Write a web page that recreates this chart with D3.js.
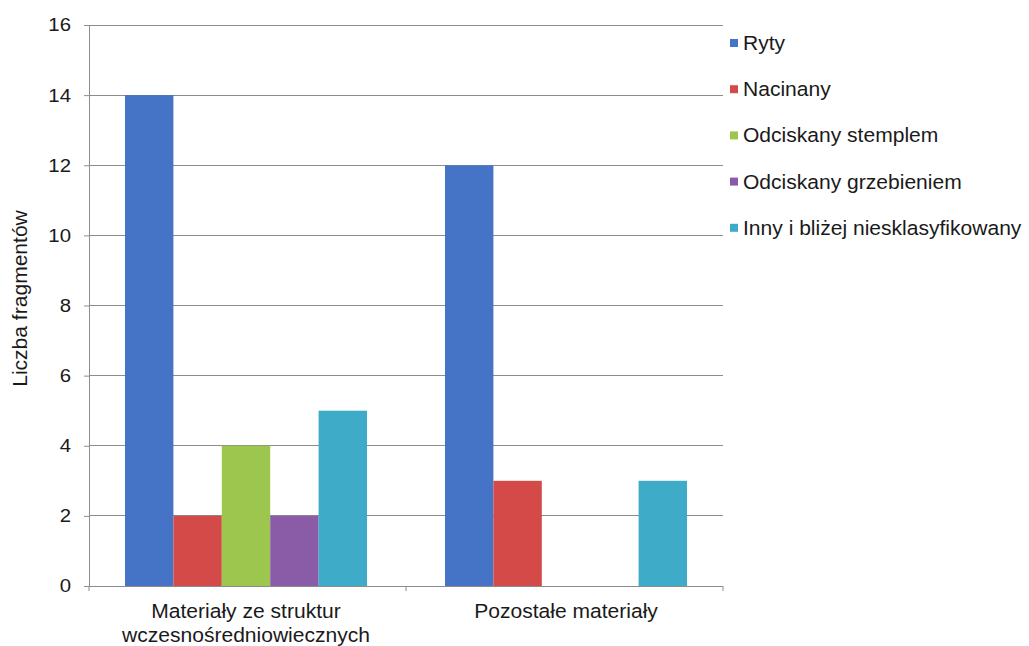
<!DOCTYPE html>
<html>
<head>
<meta charset="utf-8">
<script src="https://cdn.jsdelivr.net/npm/d3@7"></script>
<style>
  html, body { margin: 0; padding: 0; background: #ffffff; }
  svg { display: block; font-family: "Liberation Sans", Arial, sans-serif; }
</style>
</head>
<body>
<svg id="chart" width="1029" height="646"></svg>
<script>
// Categories (two lines each) and the decoration types
const categories = ["Materiały ze struktur\nwczesnośredniowiecznych", "Pozostałe materiały"];
const seriesNames = ["Ryty", "Nacinany", "Odciskany stemplem", "Odciskany grzebieniem", "Inny i bliżej niesklasyfikowany"];
const seriesColors = ["#4574c6", "#d44a48", "#9cc64e", "#8a5ca8", "#3eabc9"];

// Fragment counts per series, one value per category
const ryty = [14, 12];
const nacinany = [2, 3];
const stemplem = [4, 0];
const grzebieniem = [2, 0];
const inny = [5, 3];

const yTicks = [0, 2, 4, 6, 8, 10, 12, 14, 16];
const yTitle = "Liczba fragmentów";

const seriesValues = [ryty, nacinany, stemplem, grzebieniem, inny];

const svg = d3.select("#chart");
const plot = { left: 89, right: 723, top: 25, bottom: 586 };
const textColor = "#1a1a1a";
const stretch = 1.08; // slightly wide lettering

const x0 = d3.scaleBand()
  .domain(d3.range(categories.length))
  .range([plot.left, plot.right])
  .paddingInner(0.24375)
  .paddingOuter(0.1125);

const x1 = d3.scaleBand()
  .domain(d3.range(seriesNames.length))
  .range([0, x0.bandwidth()])
  .padding(0);

const y = d3.scaleLinear().domain([0, 16]).range([plot.bottom, plot.top]);

// Horizontal gridlines
svg.append("g")
  .selectAll("line")
  .data(yTicks.filter(t => t > 0))
  .join("line")
  .attr("x1", plot.left)
  .attr("x2", plot.right)
  .attr("y1", d => y(d))
  .attr("y2", d => y(d))
  .attr("stroke", "#8c8c8c")
  .attr("stroke-width", 1)
  .attr("shape-rendering", "crispEdges");

// Bars
const groups = svg.append("g")
  .selectAll("g")
  .data(categories.map((c, i) => i))
  .join("g")
  .attr("transform", i => `translate(${x0(i)},0)`);

groups.selectAll("rect")
  .data(ci => seriesValues.map((vals, si) => ({ si, v: vals[ci] })))
  .join("rect")
  .attr("x", d => x1(d.si))
  .attr("width", x1.bandwidth())
  .attr("y", d => y(d.v))
  .attr("height", d => y(0) - y(d.v))
  .attr("fill", d => seriesColors[d.si]);

// Y axis
const yAxis = d3.axisLeft(y).tickValues(yTicks).tickSize(5).tickPadding(13);
const gy = svg.append("g")
  .attr("transform", `translate(${plot.left},0)`)
  .call(yAxis);
gy.select(".domain").attr("stroke", "#8c8c8c");
gy.selectAll(".tick line").attr("stroke", "#8c8c8c");
gy.selectAll(".tick text")
  .attr("x", 0)
  .attr("transform", `translate(-18,0) scale(1.1,1)`)
  .attr("font-size", 18.5)
  .attr("fill", textColor)
  .attr("font-family", "Liberation Sans, Arial, sans-serif");

// X axis
const xAxis = d3.axisBottom(x0).tickSize(0).tickFormat(() => "");
const gx = svg.append("g")
  .attr("transform", `translate(0,${plot.bottom})`)
  .call(xAxis);
gx.select(".domain").attr("stroke", "#8c8c8c").attr("d", `M${plot.left - 5},0.5H${plot.right}`);

// Small separators between categories
const sepX = [plot.left, (x0(0) + x0.bandwidth() + x0(1)) / 2, plot.right];
gx.selectAll("line.sep")
  .data(sepX)
  .join("line")
  .attr("class", "sep")
  .attr("x1", d => d).attr("x2", d => d)
  .attr("y1", 0).attr("y2", 5)
  .attr("stroke", "#8c8c8c");

// Category labels
svg.append("g")
  .selectAll("text")
  .data(categories.map((c, i) => ({ c, i })))
  .join("text")
  .attr("transform", d => `translate(${x0(d.i) + x0.bandwidth() / 2},618) scale(${stretch},1)`)
  .attr("text-anchor", "middle")
  .attr("font-size", 19.5)
  .attr("fill", textColor)
  .selectAll("tspan")
  .data(d => d.c.split("\n"))
  .join("tspan")
  .attr("x", 0)
  .attr("dy", (d, i) => i === 0 ? 0 : 24)
  .text(d => d);

// Y axis title
svg.append("text")
  .attr("transform", `translate(27,${(plot.top + plot.bottom) / 2 - 7}) rotate(-90) scale(${stretch},1)`)
  .attr("text-anchor", "middle")
  .attr("font-size", 19.5)
  .attr("fill", textColor)
  .text(yTitle);

// Legend
const legend = svg.append("g")
  .selectAll("g")
  .data(seriesNames.map((n, i) => ({ n, i })))
  .join("g")
  .attr("transform", d => `translate(730,${43 + d.i * 46.2})`);

legend.append("rect")
  .attr("x", 0)
  .attr("y", -4)
  .attr("width", 8)
  .attr("height", 8)
  .attr("fill", d => seriesColors[d.i]);

legend.append("text")
  .attr("transform", `translate(13,7) scale(${stretch},1)`)
  .attr("font-size", 19.5)
  .attr("fill", textColor)
  .text(d => d.n);
</script>
</body>
</html>
